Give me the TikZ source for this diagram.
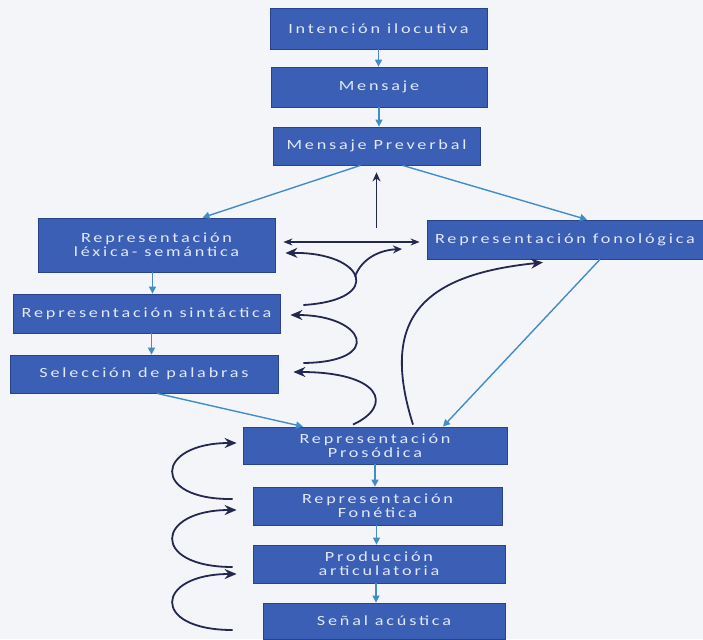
\documentclass[tikz,border=0pt]{standalone}
\usepackage{fontspec}
\newfontfamily\boxfont[FakeStretch=1.3,LetterSpace=20]{Carlito}
\usetikzlibrary{arrows.meta}
\definecolor{boxblue}{RGB}{60,95,182}
\definecolor{boxedge}{RGB}{40,66,140}
\definecolor{boxtext}{RGB}{225,232,246}
\definecolor{linkblue}{RGB}{66,140,200}
\definecolor{loopnavy}{RGB}{35,40,80}
\definecolor{paper}{RGB}{244,245,248}

\begin{document}
\begin{tikzpicture}[
  x=1pt, y=-1pt,
  box/.style={draw=boxedge, line width=0.8pt, fill=boxblue, text=boxtext, font=\boxfont\fontsize{14}{14}\selectfont, align=center, inner sep=0pt},
  flow/.style={draw=linkblue, line width=1.4pt, -{Triangle[length=7pt,width=7pt]}},
  feedback/.style={draw=loopnavy, line width=1.8pt, -{Stealth[length=12pt,width=10pt]}}
]
\useasboundingbox (0,0) rectangle (703,639);
\fill[paper] (0,0) rectangle (703,639);

\node[box, minimum width=217pt, minimum height=41pt] (intencion) at (378.5,28.5) {Intención ilocutiva};
\node[box, minimum width=216pt, minimum height=40pt] (mensaje) at (379,87) {Mensaje};
\node[box, minimum width=207pt, minimum height=38pt] (preverbal) at (376.5,146) {Mensaje Preverbal};
\node[box, minimum width=237pt, minimum height=54pt] (lexica) at (156.5,245) {Representación\\léxica- semántica};
\node[box, minimum width=267pt, minimum height=39pt] (sintactica) at (146.5,313.5) {Representación sintáctica};
\node[box, minimum width=268pt, minimum height=38pt] (seleccion) at (144,374) {Selección de palabras};
\node[box, minimum width=276pt, minimum height=39pt] (fonologica) at (565,239.5) {Representación fonológica};
\node[box, minimum width=264pt, minimum height=37pt] (prosodica) at (375,445.5) {Representación\\Prosódica};
\node[box, minimum width=249pt, minimum height=38pt] (fonetica) at (377.5,506) {Representación\\Fonética};
\node[box, minimum width=252pt, minimum height=38pt] (produccion) at (379,564) {Producción\\articulatoria};
\node[box, minimum width=242pt, minimum height=36pt] (senal) at (384,621) {Señal acústica};
\coordinate (rise) at (376.5,228);
\coordinate (branchtip) at (402,249);

\draw[flow] (intencion.south) -- (intencion.south |- mensaje.north);
\draw[flow] (mensaje.south) -- (mensaje.south |- preverbal.north);
\draw[flow] ([xshift=-16pt]preverbal.south) -- ([xshift=46pt]lexica.north);
\draw[flow] ([xshift=26pt]preverbal.south) -- ([xshift=22pt]fonologica.north);
\draw[flow] ([xshift=-4pt]lexica.south) -- ([xshift=-4pt]lexica.south |- sintactica.north);
\draw[flow] ([xshift=5pt]sintactica.south) -- ([xshift=5pt]sintactica.south |- seleccion.north);
\draw[flow] ([xshift=13pt]seleccion.south) -- ([xshift=-72pt]prosodica.north);
\draw[flow] ([xshift=35pt]fonologica.south) -- ([xshift=68pt]prosodica.north);
\draw[flow] (prosodica.south) -- (prosodica.south |- fonetica.north);
\draw[flow] ([xshift=-1pt]fonetica.south) -- ([xshift=-1pt]fonetica.south |- produccion.north);
\draw[flow] ([xshift=-3pt]produccion.south) -- ([xshift=-3pt]produccion.south |- senal.north);

\draw[feedback, line width=1.6pt, -{Stealth[length=9pt,width=8pt]}] (rise) -- ([yshift=-7pt]preverbal.south);
\draw[feedback, line width=1.3pt, {Stealth[length=9pt,width=7pt]}-{Stealth[length=9pt,width=7pt]}] ([xshift=8pt,yshift=3pt]lexica.east) -- ([xshift=-7pt,yshift=-2.5pt]fonologica.west);
\draw[feedback] ([xshift=23pt,yshift=8.5pt]sintactica.east) .. controls (385,300) and (365,252) .. coordinate[pos=0.5] (split) ([xshift=10pt,yshift=-8pt]lexica.east);
\draw[feedback, -{Stealth[length=9pt,width=8pt]}] (split) .. controls (362,258) and (380,250) .. (branchtip);
\draw[feedback] ([xshift=25pt,yshift=11pt]seleccion.east) .. controls (385,362) and (365,315) .. ([xshift=10pt,yshift=-1.5pt]sintactica.east);
\draw[feedback] ([xshift=-22pt,yshift=2pt]prosodica.north) .. controls (395,405) and (380,372) .. ([xshift=15pt,yshift=2pt]seleccion.east);
\draw[feedback] ([xshift=38pt,yshift=2pt]prosodica.north) .. controls (380,320) and (420,275) .. ([xshift=-22pt,yshift=-3pt]fonologica.south);
\draw[feedback] ([xshift=-20pt,yshift=7pt]fonetica.west) .. controls (150,500) and (155,443) .. ([xshift=-6pt,yshift=2.5pt]prosodica.west);
\draw[feedback] ([xshift=-20pt,yshift=-3pt]produccion.west) .. controls (150,567) and (155,510) .. ([xshift=-16pt,yshift=-4pt]fonetica.west);
\draw[feedback] ([xshift=-30pt,yshift=-9pt]senal.west) .. controls (150,630) and (155,574) .. ([xshift=-16pt,yshift=-10pt]produccion.west);
\end{tikzpicture}
\end{document}
